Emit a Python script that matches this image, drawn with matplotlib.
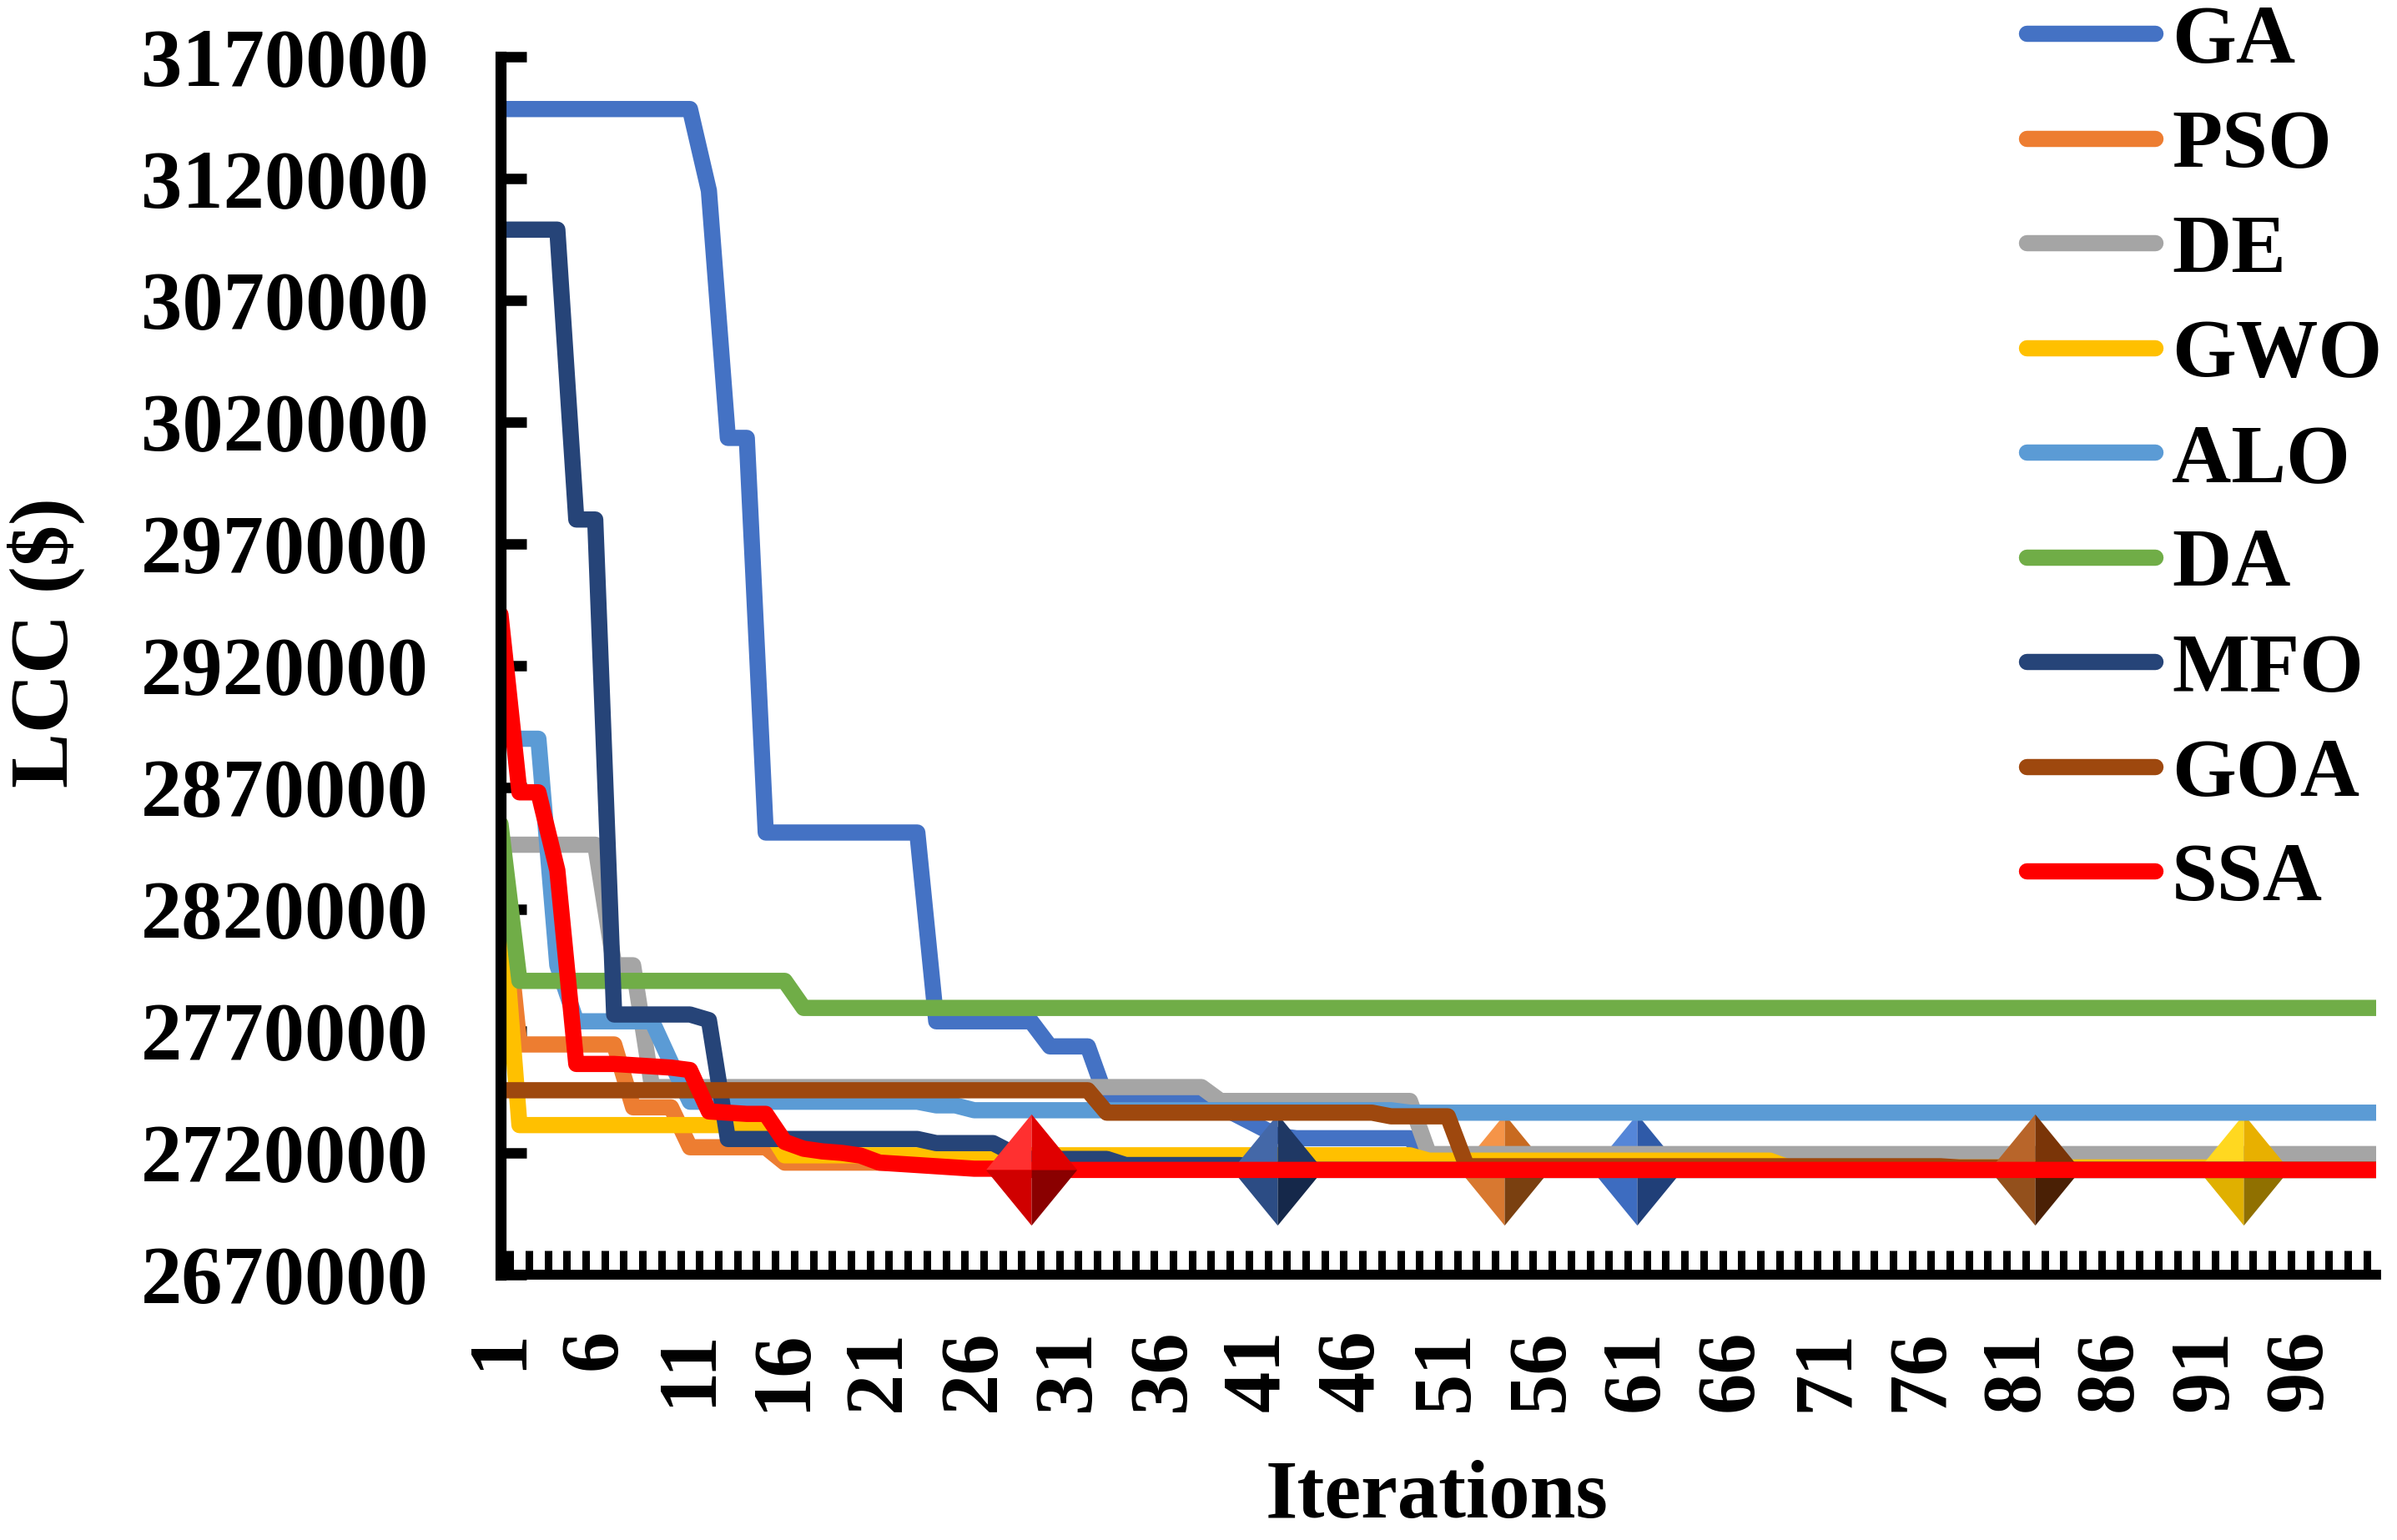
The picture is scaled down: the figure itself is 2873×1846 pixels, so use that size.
import numpy as np
import matplotlib
matplotlib.use('Agg')
import matplotlib.pyplot as plt
from matplotlib.path import Path

plt.rcParams['font.family'] = ['Liberation Serif', 'DejaVu Serif']
plt.rcParams['font.weight'] = 'bold'

# iterations on the x axis
iterations = np.arange(1, 101)

# convergence curves, as (number of iterations, LCC) runs
ga_runs = [(11, 3148500), (1, 3115000), (2, 3013500), (9, 2851500), (6, 2774000),
           (3, 2763700), (6, 2742000), (1, 2739000), (1, 2735000), (1, 2731000),
           (1, 2727000), (7, 2726000), (11, 2716500), (40, 2713000)]
pso_runs = [(1, 2840000), (6, 2764500), (3, 2738700), (5, 2722300), (38, 2716000),
            (47, 2713000)]
de_runs = [(6, 2846500), (2, 2797000), (30, 2747000), (11, 2741300), (51, 2719500)]
gwo_runs = [(1, 2830000), (14, 2731400), (34, 2719000), (19, 2716800), (24, 2714000),
            (8, 2713000)]
alo_runs = [(3, 2890000), (1, 2797000), (5, 2774000), (1, 2757000), (13, 2741000),
            (2, 2739500), (23, 2737500), (52, 2736500)]
da_runs = [(1, 2855000), (15, 2790600), (84, 2779500)]
mfo_runs = [(4, 3099000), (2, 2980000), (5, 2776800), (1, 2774500), (11, 2725700),
            (4, 2724000), (1, 2720000), (5, 2717500), (7, 2715000), (1, 2714000),
            (59, 2713000)]
goa_runs = [(32, 2745700), (15, 2736500), (4, 2735000), (26, 2714500), (4, 2714000),
            (19, 2713000)]
ssa_runs = [(1, 2941000), (2, 2868000), (1, 2836000), (3, 2756500), (1, 2756000),
            (1, 2755500), (1, 2755000), (1, 2754000), (1, 2737000), (1, 2736500),
            (2, 2736000), (1, 2724500), (1, 2721700), (1, 2720600), (1, 2720000),
            (1, 2718900), (1, 2716000), (1, 2715500), (1, 2715000), (1, 2714500),
            (1, 2714000), (3, 2713500), (72, 2713000)]

names = ['GA', 'PSO', 'DE', 'GWO', 'ALO', 'DA', 'MFO', 'GOA', 'SSA']
all_runs = [ga_runs, pso_runs, de_runs, gwo_runs, alo_runs, da_runs, mfo_runs,
            goa_runs, ssa_runs]
colors = ['#4472C4', '#ED7D31', '#A5A5A5', '#FFC000', '#5B9BD5', '#70AD47',
          '#264478', '#9E480E', '#FF0000']

# iteration where each algorithm is flagged with a diamond
marker_iter = {'SSA': 29, 'MFO': 42, 'PSO': 54, 'GA': 61, 'GOA': 82, 'GWO': 93}
# facet shades of the diamonds: top-left, top-right, bottom-left, bottom-right
marker_shades = {
    'SSA': ['#ff3030', '#e00000', '#d00000', '#8a0000'],
    'MFO': ['#4468a8', '#1f3864', '#2c4c84', '#15284a'],
    'PSO': ['#f59448', '#c86a20', '#d87830', '#7a4010'],
    'GA': ['#5586d8', '#2f5aa8', '#3d6cc0', '#203f78'],
    'GOA': ['#b8652a', '#7a3508', '#93501c', '#4a2005'],
    'GWO': ['#ffd820', '#e8b000', '#e0b000', '#907000'],
}

y_ticks = np.arange(2670000, 3170001, 50000)
x_labels = np.arange(1, 97, 5)


def expand(runs):
    return np.repeat([v for n, v in runs], [n for n, v in runs])


# four shaded facets make up one diamond
hw = 0.82
codes = [Path.MOVETO, Path.LINETO, Path.LINETO, Path.CLOSEPOLY]
facets = [Path([(0, 0), (0, 1), (-hw, 0), (0, 0)], codes),
          Path([(0, 0), (0, 1), (hw, 0), (0, 0)], codes),
          Path([(0, 0), (0, -1), (-hw, 0), (0, 0)], codes),
          Path([(0, 0), (0, -1), (hw, 0), (0, 0)], codes)]

fig = plt.figure(figsize=(28.73, 18.46), dpi=100)
ax = fig.add_axes([0.2088, 0.1723, 0.7825, 0.7909])

for i, (name, runs, c) in enumerate(zip(names, all_runs, colors)):
    vals = expand(runs)
    ax.plot(iterations, vals, color=c, lw=14, solid_capstyle='round',
            solid_joinstyle='round', label=name, zorder=2 + i * 0.1)
    if name in marker_iter:
        k = marker_iter[name]
        for path, shade in zip(facets, marker_shades[name]):
            ax.plot([k], [vals[k - 1]], linestyle='none', marker=path,
                    markersize=96, markeredgewidth=0, color=shade,
                    zorder=2 + i * 0.1 + 0.05)

ax.set_xlim(1, 100)
ax.set_ylim(2670000, 3170000)

ax.set_yticks(y_ticks)
ax.set_yticklabels([str(v) for v in y_ticks])
ax.set_xticks(x_labels)
ax.set_xticklabels([str(v) for v in x_labels], rotation=90)
ax.set_xticks(np.arange(1.5, 100, 1), minor=True)

ax.tick_params(axis='y', direction='in', length=22, width=9, pad=62,
               labelsize=71)
ax.tick_params(axis='x', which='major', direction='in', length=0, pad=47,
               labelsize=71)
ax.tick_params(axis='x', which='minor', direction='in', length=21, width=6.5)

for side in ['top', 'right']:
    ax.spines[side].set_visible(False)
ax.spines['left'].set_linewidth(9.5)
ax.spines['bottom'].set_linewidth(8.5)
ax.spines['left'].set_zorder(10)
ax.spines['bottom'].set_zorder(10)

fig.text(55 / 2873, 0.583, 'LCC ($)', rotation=90, ha='center', va='center',
         fontsize=71, fontweight='bold')
fig.text(0.5995, 0.0146, 'Iterations', ha='center', va='baseline',
         fontsize=71, fontweight='bold')

ax.legend(loc='upper left', bbox_to_anchor=(0.8453, 0.997),
          bbox_transform=fig.transFigure, frameon=False,
          prop={'size': 71, 'weight': 'bold'}, handlelength=1.57,
          handletextpad=0.2, labelspacing=0.36, borderpad=0, borderaxespad=0)

fig.savefig('out.png', dpi=100)
